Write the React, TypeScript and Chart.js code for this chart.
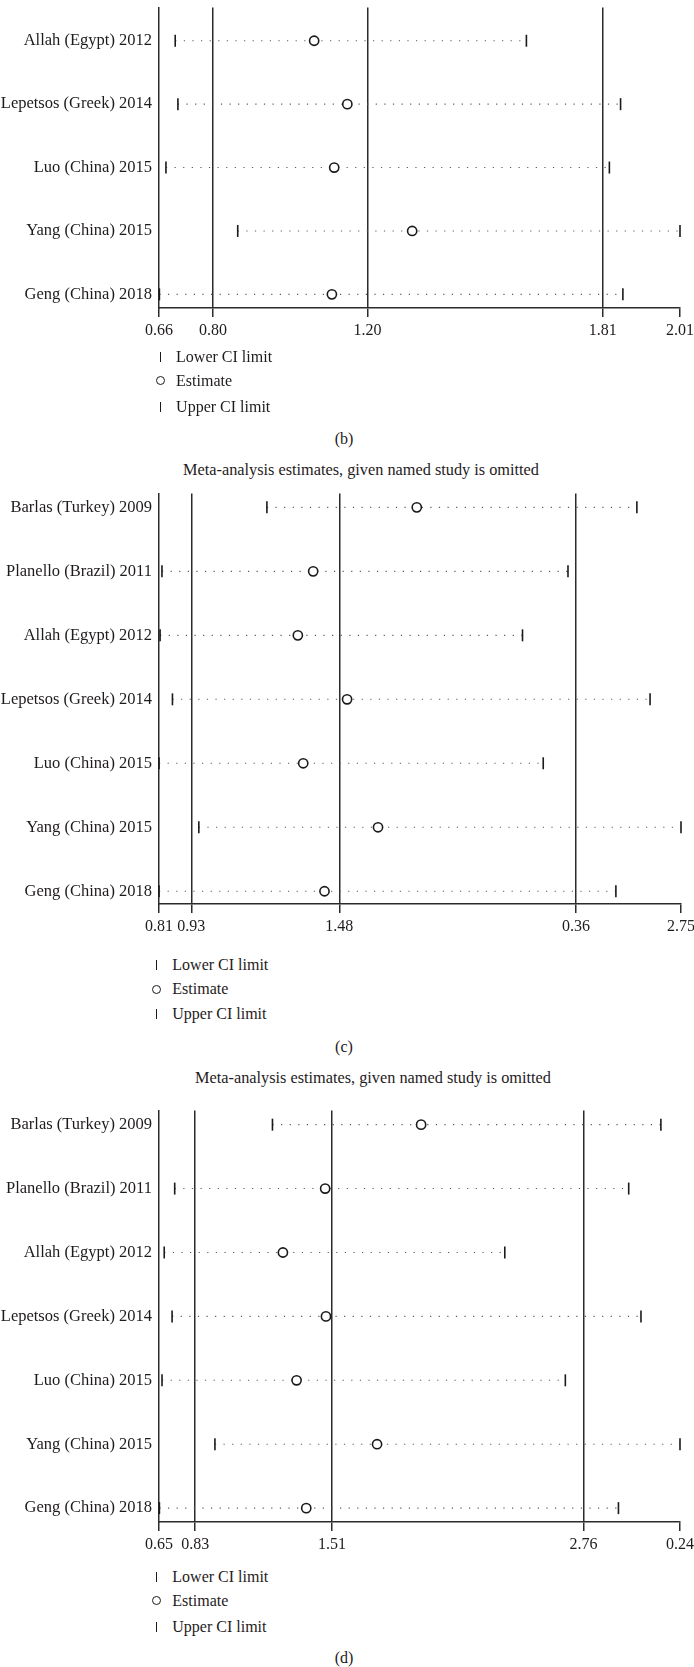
import React, { useEffect, useRef } from 'react';
import { Chart, registerables } from 'chart.js';

Chart.register(...registerables);

const FONT = '"Liberation Serif", "Times New Roman", serif';
const INK = '#1f1b1c';
const LINE = '#2b2b2b';

// ---------- Panel (b) (top part cut off in the reference) ----------
const studiesB = ['Allah (Egypt) 2012', 'Lepetsos (Greek) 2014', 'Luo (China) 2015', 'Yang (China) 2015', 'Geng (China) 2018'];
const lowerB = [0.702, 0.709, 0.678, 0.864, 0.661];
const estimateB = [1.062, 1.148, 1.114, 1.316, 1.108];
const upperB = [1.612, 1.856, 1.827, 2.01, 1.862];
const tickValuesB = [0.66, 0.8, 1.2, 1.81, 2.01];
const tickLabelsB = ['0.66', '0.80', '1.20', '1.81', '2.01'];

// ---------- Panel (c) ----------
const studiesC = ['Barlas (Turkey) 2009', 'Planello (Brazil) 2011', 'Allah (Egypt) 2012', 'Lepetsos (Greek) 2014', 'Luo (China) 2015', 'Yang (China) 2015', 'Geng (China) 2018'];
const lowerC = [1.211, 0.821, 0.814, 0.86, 0.81, 0.958, 0.81];
const estimateC = [1.768, 1.383, 1.326, 1.509, 1.346, 1.624, 1.425];
const upperC = [2.586, 2.33, 2.161, 2.635, 2.238, 2.75, 2.508];
const tickValuesC = [0.81, 0.93, 1.48, 2.36, 2.75];
const tickLabelsC = ['0.81', '0.93', '1.48', '0.36', '2.75'];

// ---------- Panel (d) ----------
const studiesD = ['Barlas (Turkey) 2009', 'Planello (Brazil) 2011', 'Allah (Egypt) 2012', 'Lepetsos (Greek) 2014', 'Luo (China) 2015', 'Yang (China) 2015', 'Geng (China) 2018'];
const lowerD = [1.214, 0.728, 0.676, 0.715, 0.665, 0.928, 0.652];
const estimateD = [1.953, 1.476, 1.266, 1.48, 1.334, 1.734, 1.382];
const upperD = [3.145, 2.985, 2.369, 3.046, 2.67, 3.24, 2.934];
const tickValuesD = [0.65, 0.83, 1.51, 2.76, 3.24];
const tickLabelsD = ['0.65', '0.83', '1.51', '2.76', '0.24'];

const titleText = 'Meta-analysis estimates, given named study is omitted';
const legendLabels = ['Lower CI limit', 'Estimate', 'Upper CI limit'];

const AXIS_H = 40;
const LEFT = 159;

type ForestProps = {
  studies: string[];
  lower: number[];
  estimate: number[];
  upper: number[];
  tickValues: number[];
  tickLabels: string[];
  top: number;
  chartHeight: number;
  right: number;
  yMin: number;
  yMax: number;
};

function ForestChart(p: ForestProps) {
  const ref = useRef<HTMLCanvasElement | null>(null);
  useEffect(() => {
    if (!ref.current) return;
    const rows = p.studies.map((_, i) => i);
    const xMin = p.tickValues[0];
    const xMax = p.tickValues[p.tickValues.length - 1];
    const labelFor = (v: number) => {
      const k = p.tickValues.findIndex((t) => Math.abs(t - v) < 1e-9);
      return k >= 0 ? p.tickLabels[k] : '';
    };
    const datasets: any[] = [
      {
        label: 'Estimate',
        data: rows.map((i) => ({ x: p.estimate[i], y: i })),
        pointStyle: 'circle',
        pointRadius: 4.6,
        pointBorderWidth: 1.6,
        pointBorderColor: '#1a1a1a',
        pointBackgroundColor: '#ffffff',
        order: 0,
        clip: false,
      },
      {
        label: 'Lower CI limit',
        data: rows.map((i) => ({ x: p.lower[i], y: i })),
        pointStyle: 'line',
        pointRotation: 90,
        pointRadius: 6,
        pointBorderWidth: 1.6,
        pointBorderColor: '#1a1a1a',
        order: 1,
        clip: false,
      },
      {
        label: 'Upper CI limit',
        data: rows.map((i) => ({ x: p.upper[i], y: i })),
        pointStyle: 'line',
        pointRotation: 90,
        pointRadius: 6,
        pointBorderWidth: 1.6,
        pointBorderColor: '#1a1a1a',
        order: 1,
        clip: false,
      },
      ...rows.map((i) => ({
        label: 'CI ' + p.studies[i],
        data: [
          { x: p.lower[i], y: i },
          { x: p.upper[i], y: i },
        ],
        showLine: true,
        borderColor: '#5a5a5a',
        borderWidth: 1.1,
        borderDash: [1.2, 7.4],
        pointRadius: 0,
        order: 2,
        clip: false,
      })),
    ];
    const chart = new Chart(ref.current, {
      type: 'scatter',
      data: { datasets },
      options: {
        animation: false,
        responsive: false,
        events: [],
        layout: { padding: { left: 0, right: 694 - p.right, top: 0, bottom: 0 } },
        plugins: { legend: { display: false }, tooltip: { enabled: false }, title: { display: false } },
        scales: {
          x: {
            type: 'linear',
            min: xMin,
            max: xMax,
            afterBuildTicks: (s: any) => {
              s.ticks = p.tickValues.map((v) => ({ value: v }));
            },
            afterFit: (s: any) => {
              s.height = AXIS_H;
              s.paddingLeft = 0;
              s.paddingRight = 0;
            },
            ticks: {
              autoSkip: false,
              maxRotation: 0,
              minRotation: 0,
              padding: 4,
              color: INK,
              font: { family: FONT, size: 16 },
              callback: (v: any) => labelFor(Number(v)),
            },
            grid: {
              drawOnChartArea: true,
              drawTicks: true,
              tickLength: 9,
              lineWidth: 1.5,
              tickWidth: 1.5,
              tickColor: LINE,
              color: (ctx: any) => {
                const v = ctx.tick ? ctx.tick.value : NaN;
                return Math.abs(v - xMin) < 1e-9 || Math.abs(v - xMax) < 1e-9 ? 'rgba(0,0,0,0)' : LINE;
              },
            },
            border: { display: true, color: LINE, width: 1.5 },
          },
          y: {
            type: 'linear',
            reverse: true,
            min: p.yMin,
            max: p.yMax,
            afterBuildTicks: (s: any) => {
              s.ticks = rows.map((i) => ({ value: i }));
            },
            afterFit: (s: any) => {
              s.width = LEFT;
              s.paddingTop = 0;
              s.paddingBottom = 0;
            },
            ticks: {
              autoSkip: false,
              padding: 7,
              color: INK,
              font: { family: FONT, size: 16.5 },
              callback: (v: any) => p.studies[Number(v)] ?? '',
            },
            grid: { drawOnChartArea: false, drawTicks: false },
            border: { display: true, color: LINE, width: 1.5 },
          },
        },
      } as any,
    });
    return () => chart.destroy();
  }, []);
  const h = p.chartHeight + AXIS_H;
  return (
    <canvas
      ref={ref}
      width={694}
      height={h}
      style={{ position: 'absolute', left: 0, top: p.top, width: 694, height: h, display: 'block' }}
    />
  );
}

function Text({ x, y, children, center, size }: { x: number; y: number; children: any; center?: boolean; size?: number }) {
  const w = 520;
  return (
    <div
      style={{
        position: 'absolute',
        left: center ? x - w / 2 : x,
        top: y - 10,
        width: center ? w : undefined,
        height: 20,
        lineHeight: '20px',
        fontFamily: FONT,
        fontSize: size ?? 16,
        color: INK,
        whiteSpace: 'nowrap',
        textAlign: center ? 'center' : 'left',
      }}
    >
      {children}
    </div>
  );
}

function Legend({ x, ys }: { x: number; ys: number[] }) {
  const bar = (y: number, k: number) => (
    <div key={'b' + k} style={{ position: 'absolute', left: x - 0.75, top: y - 5, width: 1.5, height: 10, background: '#1a1a1a' }} />
  );
  return (
    <>
      {bar(ys[0], 0)}
      <div
        style={{
          position: 'absolute',
          left: x - 4.5,
          top: ys[1] - 4.5,
          width: 9,
          height: 9,
          boxSizing: 'border-box',
          border: '1.6px solid #1a1a1a',
          borderRadius: '50%',
        }}
      />
      {bar(ys[2], 2)}
      {legendLabels.map((t, i) => (
        <Text key={t} x={x + 15.6} y={ys[i]}>
          {t}
        </Text>
      ))}
    </>
  );
}

export default function App() {
  return (
    <div
      style={{
        position: 'absolute',
        left: 0,
        top: 0,
        width: 694,
        height: 1667,
        overflow: 'hidden',
        background: '#ffffff',
      }}
    >
      {/* Panel (b) */}
      <ForestChart
        studies={studiesB}
        lower={lowerB}
        estimate={estimateB}
        upper={upperB}
        tickValues={tickValuesB}
        tickLabels={tickLabelsB}
        top={0}
        chartHeight={308}
        right={680}
        yMin={-0.523}
        yMax={4.215}
      />
      <Legend x={160.5} ys={[356.7, 380.7, 406.7]} />
      <Text x={344} y={439.3} center>
        (b)
      </Text>

      {/* Panel (c) */}
      <Text x={361} y={470} center size={16.3}>
        {titleText}
      </Text>
      <ForestChart
        studies={studiesC}
        lower={lowerC}
        estimate={estimateC}
        upper={upperC}
        tickValues={tickValuesC}
        tickLabels={tickLabelsC}
        top={486}
        chartHeight={418}
        right={681}
        yMin={-0.215}
        yMax={6.199}
      />
      <Legend x={156.7} ys={[965, 989, 1014.3]} />
      <Text x={344} y={1046.7} center>
        (c)
      </Text>

      {/* Panel (d) */}
      <Text x={373} y={1077.5} center size={16.3}>
        {titleText}
      </Text>
      <ForestChart
        studies={studiesD}
        lower={lowerD}
        estimate={estimateD}
        upper={upperD}
        tickValues={tickValuesD}
        tickLabels={tickLabelsD}
        top={1103}
        chartHeight={419}
        right={680}
        yMin={-0.22}
        yMax={6.217}
      />
      <Legend x={156.7} ys={[1576.7, 1600.7, 1626.7]} />
      <Text x={344} y={1658.3} center>
        (d)
      </Text>
    </div>
  );
}
